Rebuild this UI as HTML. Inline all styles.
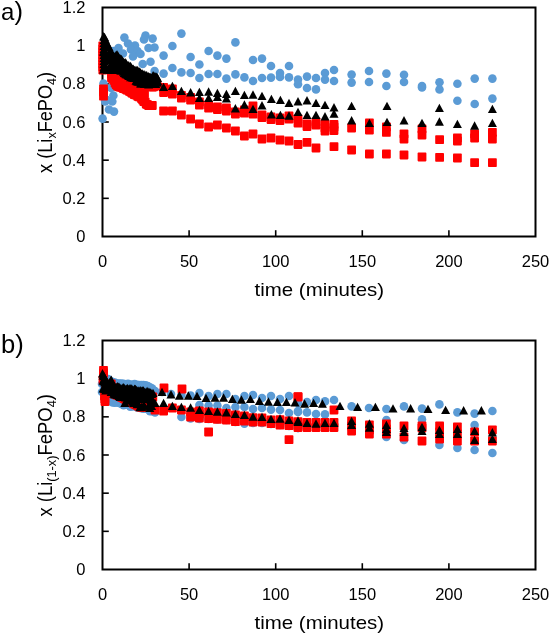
<!DOCTYPE html><html><head><meta charset="utf-8"><title>Figure</title><style>html,body{margin:0;padding:0;background:#fff}svg{display:block}</style></head><body><svg width="550" height="635" viewBox="0 0 550 635" font-family="'Liberation Sans', sans-serif" fill="#000"><rect width="550" height="635" fill="#fff"/><rect x="102.5" y="7.5" width="433.0" height="229.0" fill="none" stroke="#000" stroke-width="2"/><g stroke="#000" stroke-width="1.6"><line x1="102.5" y1="198.33" x2="108.8" y2="198.33"/><line x1="102.5" y1="160.17" x2="108.8" y2="160.17"/><line x1="102.5" y1="122.00" x2="108.8" y2="122.00"/><line x1="102.5" y1="83.84" x2="108.8" y2="83.84"/><line x1="102.5" y1="45.67" x2="108.8" y2="45.67"/><line x1="189.10" y1="236.5" x2="189.10" y2="230.2"/><line x1="275.70" y1="236.5" x2="275.70" y2="230.2"/><line x1="362.30" y1="236.5" x2="362.30" y2="230.2"/><line x1="448.90" y1="236.5" x2="448.90" y2="230.2"/></g><g font-size="16.5" text-anchor="end"><text x="85.5" y="242.1">0</text><text x="85.5" y="203.9">0.2</text><text x="85.5" y="165.8">0.4</text><text x="85.5" y="127.6">0.6</text><text x="85.5" y="89.4">0.8</text><text x="85.5" y="51.3">1</text><text x="85.5" y="13.1">1.2</text></g><g font-size="16.5" text-anchor="middle"><text x="102.5" y="266.7">0</text><text x="189.1" y="266.7">50</text><text x="275.7" y="266.7">100</text><text x="362.3" y="266.7">150</text><text x="448.9" y="266.7">200</text><text x="535.5" y="266.7">250</text></g><text x="319.3" y="296.4" font-size="19" text-anchor="middle" textLength="129.5" lengthAdjust="spacingAndGlyphs">time (minutes)</text><g fill="#5B9BD5"><circle cx="163.6" cy="55.6" r="4.3"/><circle cx="163.6" cy="73.6" r="4.3"/><circle cx="172.4" cy="46.0" r="4.3"/><circle cx="172.4" cy="68.0" r="4.3"/><circle cx="181.4" cy="33.6" r="4.3"/><circle cx="181.4" cy="72.4" r="4.3"/><circle cx="190.6" cy="57.0" r="4.3"/><circle cx="190.6" cy="73.0" r="4.3"/><circle cx="199.4" cy="64.5" r="4.3"/><circle cx="199.4" cy="78.0" r="4.3"/><circle cx="208.6" cy="51.0" r="4.3"/><circle cx="208.6" cy="74.0" r="4.3"/><circle cx="217.4" cy="55.6" r="4.3"/><circle cx="217.4" cy="74.0" r="4.3"/><circle cx="226.4" cy="58.6" r="4.3"/><circle cx="226.4" cy="78.6" r="4.3"/><circle cx="235.4" cy="42.4" r="4.3"/><circle cx="235.4" cy="74.4" r="4.3"/><circle cx="244.4" cy="77.4" r="4.3"/><circle cx="253.0" cy="60.0" r="4.3"/><circle cx="253.0" cy="81.0" r="4.3"/><circle cx="262.0" cy="58.6" r="4.3"/><circle cx="262.0" cy="78.0" r="4.3"/><circle cx="271.0" cy="66.0" r="4.3"/><circle cx="271.0" cy="77.6" r="4.3"/><circle cx="280.0" cy="73.0" r="4.3"/><circle cx="280.0" cy="77.0" r="4.3"/><circle cx="289.0" cy="66.0" r="4.3"/><circle cx="289.0" cy="77.4" r="4.3"/><circle cx="298.0" cy="79.5" r="4.3"/><circle cx="298.0" cy="84.2" r="4.3"/><circle cx="307.0" cy="76.6" r="4.3"/><circle cx="307.0" cy="88.0" r="4.3"/><circle cx="316.0" cy="78.0" r="4.3"/><circle cx="316.0" cy="89.4" r="4.3"/><circle cx="325.0" cy="73.0" r="4.3"/><circle cx="325.0" cy="79.6" r="4.3"/><circle cx="334.0" cy="70.0" r="4.3"/><circle cx="334.0" cy="81.0" r="4.3"/><circle cx="351.6" cy="74.6" r="4.3"/><circle cx="351.6" cy="82.6" r="4.3"/><circle cx="369.0" cy="71.0" r="4.3"/><circle cx="369.0" cy="82.0" r="4.3"/><circle cx="386.4" cy="73.6" r="4.3"/><circle cx="386.4" cy="86.0" r="4.3"/><circle cx="404.0" cy="74.8" r="4.3"/><circle cx="404.0" cy="82.0" r="4.3"/><circle cx="422.0" cy="86.0" r="4.3"/><circle cx="422.0" cy="87.5" r="4.3"/><circle cx="439.5" cy="82.2" r="4.3"/><circle cx="439.5" cy="89.5" r="4.3"/><circle cx="457.4" cy="83.8" r="4.3"/><circle cx="457.4" cy="100.8" r="4.3"/><circle cx="474.7" cy="78.6" r="4.3"/><circle cx="474.7" cy="104.0" r="4.3"/><circle cx="492.4" cy="78.6" r="4.3"/><circle cx="492.4" cy="98.6" r="4.3"/><circle cx="102.6" cy="118.6" r="4.3"/><circle cx="114.0" cy="111.6" r="4.3"/><circle cx="109.0" cy="109.5" r="4.3"/><circle cx="112.3" cy="101.5" r="4.3"/><circle cx="105.2" cy="101.5" r="4.3"/><circle cx="113.4" cy="95.5" r="4.3"/><circle cx="111.2" cy="88.0" r="4.3"/><circle cx="103.5" cy="83.5" r="4.3"/><circle cx="107.0" cy="100.0" r="4.3"/><circle cx="124.4" cy="37.6" r="4.3"/><circle cx="145.5" cy="35.5" r="4.3"/><circle cx="152.6" cy="38.6" r="4.3"/><circle cx="144.0" cy="39.5" r="4.3"/><circle cx="154.5" cy="47.5" r="4.3"/><circle cx="148.5" cy="48.0" r="4.3"/><circle cx="135.0" cy="45.5" r="4.3"/><circle cx="128.0" cy="43.5" r="4.3"/><circle cx="118.5" cy="48.0" r="4.3"/><circle cx="131.0" cy="49.5" r="4.3"/><circle cx="137.5" cy="51.0" r="4.3"/><circle cx="140.5" cy="54.0" r="4.3"/><circle cx="133.0" cy="56.5" r="4.3"/><circle cx="123.0" cy="53.5" r="4.3"/><circle cx="113.5" cy="51.0" r="4.3"/><circle cx="150.5" cy="61.8" r="4.3"/><circle cx="142.7" cy="64.0" r="4.3"/><circle cx="154.6" cy="71.0" r="4.3"/></g><g fill="#FF0000"><rect x="159.2" y="83.1" width="8.8" height="8.8" rx="0.8"/><rect x="159.2" y="106.6" width="8.8" height="8.8" rx="0.8"/><rect x="168.0" y="84.6" width="8.8" height="8.8" rx="0.8"/><rect x="168.0" y="89.6" width="8.8" height="8.8" rx="0.8"/><rect x="168.0" y="106.6" width="8.8" height="8.8" rx="0.8"/><rect x="177.0" y="93.6" width="8.8" height="8.8" rx="0.8"/><rect x="177.0" y="110.6" width="8.8" height="8.8" rx="0.8"/><rect x="186.2" y="95.6" width="8.8" height="8.8" rx="0.8"/><rect x="186.2" y="114.6" width="8.8" height="8.8" rx="0.8"/><rect x="195.0" y="97.6" width="8.8" height="8.8" rx="0.8"/><rect x="195.0" y="119.6" width="8.8" height="8.8" rx="0.8"/><rect x="204.2" y="100.6" width="8.8" height="8.8" rx="0.8"/><rect x="204.2" y="122.6" width="8.8" height="8.8" rx="0.8"/><rect x="213.0" y="102.6" width="8.8" height="8.8" rx="0.8"/><rect x="213.0" y="120.6" width="8.8" height="8.8" rx="0.8"/><rect x="222.0" y="103.6" width="8.8" height="8.8" rx="0.8"/><rect x="222.0" y="123.6" width="8.8" height="8.8" rx="0.8"/><rect x="231.0" y="107.6" width="8.8" height="8.8" rx="0.8"/><rect x="231.0" y="126.6" width="8.8" height="8.8" rx="0.8"/><rect x="240.0" y="105.6" width="8.8" height="8.8" rx="0.8"/><rect x="240.0" y="131.6" width="8.8" height="8.8" rx="0.8"/><rect x="248.6" y="101.6" width="8.8" height="8.8" rx="0.8"/><rect x="248.6" y="129.6" width="8.8" height="8.8" rx="0.8"/><rect x="257.6" y="110.6" width="8.8" height="8.8" rx="0.8"/><rect x="257.6" y="134.6" width="8.8" height="8.8" rx="0.8"/><rect x="266.6" y="112.6" width="8.8" height="8.8" rx="0.8"/><rect x="266.6" y="133.6" width="8.8" height="8.8" rx="0.8"/><rect x="275.6" y="113.6" width="8.8" height="8.8" rx="0.8"/><rect x="275.6" y="135.6" width="8.8" height="8.8" rx="0.8"/><rect x="284.6" y="111.6" width="8.8" height="8.8" rx="0.8"/><rect x="284.6" y="136.6" width="8.8" height="8.8" rx="0.8"/><rect x="293.6" y="114.6" width="8.8" height="8.8" rx="0.8"/><rect x="293.6" y="140.1" width="8.8" height="8.8" rx="0.8"/><rect x="302.6" y="119.6" width="8.8" height="8.8" rx="0.8"/><rect x="302.6" y="138.0" width="8.8" height="8.8" rx="0.8"/><rect x="311.6" y="117.6" width="8.8" height="8.8" rx="0.8"/><rect x="311.6" y="143.6" width="8.8" height="8.8" rx="0.8"/><rect x="320.6" y="123.6" width="8.8" height="8.8" rx="0.8"/><rect x="329.6" y="122.6" width="8.8" height="8.8" rx="0.8"/><rect x="329.6" y="142.2" width="8.8" height="8.8" rx="0.8"/><rect x="347.2" y="123.6" width="8.8" height="8.8" rx="0.8"/><rect x="347.2" y="145.6" width="8.8" height="8.8" rx="0.8"/><rect x="365.0" y="118.6" width="8.8" height="8.8" rx="0.8"/><rect x="365.0" y="125.6" width="8.8" height="8.8" rx="0.8"/><rect x="365.0" y="149.6" width="8.8" height="8.8" rx="0.8"/><rect x="382.0" y="122.6" width="8.8" height="8.8" rx="0.8"/><rect x="382.0" y="128.0" width="8.8" height="8.8" rx="0.8"/><rect x="382.0" y="149.6" width="8.8" height="8.8" rx="0.8"/><rect x="399.6" y="129.6" width="8.8" height="8.8" rx="0.8"/><rect x="399.6" y="134.6" width="8.8" height="8.8" rx="0.8"/><rect x="399.6" y="150.6" width="8.8" height="8.8" rx="0.8"/><rect x="417.6" y="124.6" width="8.8" height="8.8" rx="0.8"/><rect x="417.6" y="130.6" width="8.8" height="8.8" rx="0.8"/><rect x="417.6" y="152.6" width="8.8" height="8.8" rx="0.8"/><rect x="435.2" y="135.3" width="8.8" height="8.8" rx="0.8"/><rect x="435.2" y="152.9" width="8.8" height="8.8" rx="0.8"/><rect x="453.0" y="133.6" width="8.8" height="8.8" rx="0.8"/><rect x="453.0" y="136.6" width="8.8" height="8.8" rx="0.8"/><rect x="453.0" y="153.6" width="8.8" height="8.8" rx="0.8"/><rect x="470.2" y="129.6" width="8.8" height="8.8" rx="0.8"/><rect x="470.2" y="133.6" width="8.8" height="8.8" rx="0.8"/><rect x="470.2" y="158.2" width="8.8" height="8.8" rx="0.8"/><rect x="488.0" y="128.0" width="8.8" height="8.8" rx="0.8"/><rect x="488.0" y="134.6" width="8.8" height="8.8" rx="0.8"/><rect x="488.0" y="158.2" width="8.8" height="8.8" rx="0.8"/><rect x="107.1" y="69.7" width="8.8" height="8.8" rx="0.8"/><rect x="108.3" y="70.3" width="8.8" height="8.8" rx="0.8"/><rect x="109.5" y="71.5" width="8.8" height="8.8" rx="0.8"/><rect x="110.7" y="70.4" width="8.8" height="8.8" rx="0.8"/><rect x="111.9" y="71.4" width="8.8" height="8.8" rx="0.8"/><rect x="113.1" y="71.4" width="8.8" height="8.8" rx="0.8"/><rect x="114.3" y="72.3" width="8.8" height="8.8" rx="0.8"/><rect x="115.5" y="71.1" width="8.8" height="8.8" rx="0.8"/><rect x="116.7" y="71.3" width="8.8" height="8.8" rx="0.8"/><rect x="117.9" y="73.2" width="8.8" height="8.8" rx="0.8"/><rect x="119.1" y="73.8" width="8.8" height="8.8" rx="0.8"/><rect x="120.3" y="74.6" width="8.8" height="8.8" rx="0.8"/><rect x="121.5" y="75.3" width="8.8" height="8.8" rx="0.8"/><rect x="122.7" y="74.0" width="8.8" height="8.8" rx="0.8"/><rect x="123.9" y="75.0" width="8.8" height="8.8" rx="0.8"/><rect x="125.1" y="76.3" width="8.8" height="8.8" rx="0.8"/><rect x="126.3" y="77.6" width="8.8" height="8.8" rx="0.8"/><rect x="127.5" y="78.2" width="8.8" height="8.8" rx="0.8"/><rect x="128.7" y="77.9" width="8.8" height="8.8" rx="0.8"/><rect x="129.9" y="79.2" width="8.8" height="8.8" rx="0.8"/><rect x="131.1" y="79.2" width="8.8" height="8.8" rx="0.8"/><rect x="132.3" y="79.3" width="8.8" height="8.8" rx="0.8"/><rect x="133.5" y="80.1" width="8.8" height="8.8" rx="0.8"/><rect x="134.7" y="80.9" width="8.8" height="8.8" rx="0.8"/><rect x="135.9" y="81.2" width="8.8" height="8.8" rx="0.8"/><rect x="137.1" y="82.0" width="8.8" height="8.8" rx="0.8"/><rect x="138.3" y="82.1" width="8.8" height="8.8" rx="0.8"/><rect x="139.5" y="81.1" width="8.8" height="8.8" rx="0.8"/><rect x="140.7" y="82.3" width="8.8" height="8.8" rx="0.8"/><rect x="141.9" y="80.8" width="8.8" height="8.8" rx="0.8"/><rect x="143.1" y="80.7" width="8.8" height="8.8" rx="0.8"/><rect x="144.3" y="80.8" width="8.8" height="8.8" rx="0.8"/><rect x="145.5" y="81.6" width="8.8" height="8.8" rx="0.8"/><rect x="146.7" y="80.7" width="8.8" height="8.8" rx="0.8"/><rect x="147.9" y="82.6" width="8.8" height="8.8" rx="0.8"/><rect x="149.1" y="82.5" width="8.8" height="8.8" rx="0.8"/><rect x="150.3" y="80.9" width="8.8" height="8.8" rx="0.8"/><rect x="151.5" y="81.3" width="8.8" height="8.8" rx="0.8"/><rect x="152.7" y="81.7" width="8.8" height="8.8" rx="0.8"/><rect x="107.1" y="73.2" width="8.8" height="8.8" rx="0.8"/><rect x="108.3" y="74.8" width="8.8" height="8.8" rx="0.8"/><rect x="109.5" y="76.0" width="8.8" height="8.8" rx="0.8"/><rect x="110.7" y="78.8" width="8.8" height="8.8" rx="0.8"/><rect x="111.9" y="80.5" width="8.8" height="8.8" rx="0.8"/><rect x="113.1" y="81.6" width="8.8" height="8.8" rx="0.8"/><rect x="114.3" y="82.1" width="8.8" height="8.8" rx="0.8"/><rect x="115.5" y="82.7" width="8.8" height="8.8" rx="0.8"/><rect x="116.7" y="82.7" width="8.8" height="8.8" rx="0.8"/><rect x="117.9" y="83.3" width="8.8" height="8.8" rx="0.8"/><rect x="119.1" y="84.2" width="8.8" height="8.8" rx="0.8"/><rect x="120.3" y="84.1" width="8.8" height="8.8" rx="0.8"/><rect x="121.5" y="84.9" width="8.8" height="8.8" rx="0.8"/><rect x="122.7" y="85.7" width="8.8" height="8.8" rx="0.8"/><rect x="123.9" y="85.6" width="8.8" height="8.8" rx="0.8"/><rect x="125.1" y="87.0" width="8.8" height="8.8" rx="0.8"/><rect x="126.3" y="87.5" width="8.8" height="8.8" rx="0.8"/><rect x="127.5" y="88.6" width="8.8" height="8.8" rx="0.8"/><rect x="128.7" y="88.7" width="8.8" height="8.8" rx="0.8"/><rect x="129.9" y="90.1" width="8.8" height="8.8" rx="0.8"/><rect x="131.1" y="90.4" width="8.8" height="8.8" rx="0.8"/><rect x="132.3" y="90.6" width="8.8" height="8.8" rx="0.8"/><rect x="133.5" y="92.0" width="8.8" height="8.8" rx="0.8"/><rect x="134.7" y="92.4" width="8.8" height="8.8" rx="0.8"/><rect x="135.9" y="92.5" width="8.8" height="8.8" rx="0.8"/><rect x="137.1" y="94.1" width="8.8" height="8.8" rx="0.8"/><rect x="138.3" y="95.6" width="8.8" height="8.8" rx="0.8"/><rect x="139.5" y="97.2" width="8.8" height="8.8" rx="0.8"/><rect x="140.7" y="97.4" width="8.8" height="8.8" rx="0.8"/><rect x="141.9" y="99.8" width="8.8" height="8.8" rx="0.8"/><rect x="143.1" y="100.3" width="8.8" height="8.8" rx="0.8"/><rect x="144.3" y="101.3" width="8.8" height="8.8" rx="0.8"/><rect x="145.5" y="100.9" width="8.8" height="8.8" rx="0.8"/><rect x="146.7" y="101.3" width="8.8" height="8.8" rx="0.8"/><rect x="147.9" y="101.1" width="8.8" height="8.8" rx="0.8"/><rect x="108.6" y="72.7" width="8.8" height="8.8" rx="0.8"/><rect x="110.1" y="74.1" width="8.8" height="8.8" rx="0.8"/><rect x="111.6" y="75.5" width="8.8" height="8.8" rx="0.8"/><rect x="113.1" y="76.2" width="8.8" height="8.8" rx="0.8"/><rect x="114.6" y="76.6" width="8.8" height="8.8" rx="0.8"/><rect x="116.1" y="77.2" width="8.8" height="8.8" rx="0.8"/><rect x="117.6" y="77.8" width="8.8" height="8.8" rx="0.8"/><rect x="119.1" y="78.5" width="8.8" height="8.8" rx="0.8"/><rect x="120.6" y="79.2" width="8.8" height="8.8" rx="0.8"/><rect x="122.1" y="80.0" width="8.8" height="8.8" rx="0.8"/><rect x="123.6" y="80.7" width="8.8" height="8.8" rx="0.8"/><rect x="125.1" y="81.5" width="8.8" height="8.8" rx="0.8"/><rect x="126.6" y="82.3" width="8.8" height="8.8" rx="0.8"/><rect x="128.1" y="83.1" width="8.8" height="8.8" rx="0.8"/><rect x="129.6" y="83.8" width="8.8" height="8.8" rx="0.8"/><rect x="131.1" y="84.6" width="8.8" height="8.8" rx="0.8"/><rect x="132.6" y="85.4" width="8.8" height="8.8" rx="0.8"/><rect x="134.1" y="86.2" width="8.8" height="8.8" rx="0.8"/><rect x="135.6" y="87.0" width="8.8" height="8.8" rx="0.8"/><rect x="137.1" y="87.7" width="8.8" height="8.8" rx="0.8"/><rect x="138.6" y="88.5" width="8.8" height="8.8" rx="0.8"/><rect x="140.1" y="89.3" width="8.8" height="8.8" rx="0.8"/><rect x="98.4" y="41.6" width="8.8" height="8.8" rx="0.8"/><rect x="98.4" y="44.6" width="8.8" height="8.8" rx="0.8"/><rect x="98.4" y="47.6" width="8.8" height="8.8" rx="0.8"/><rect x="98.4" y="50.6" width="8.8" height="8.8" rx="0.8"/><rect x="98.4" y="53.6" width="8.8" height="8.8" rx="0.8"/><rect x="98.4" y="56.6" width="8.8" height="8.8" rx="0.8"/><rect x="98.4" y="59.6" width="8.8" height="8.8" rx="0.8"/><rect x="98.4" y="62.6" width="8.8" height="8.8" rx="0.8"/><rect x="98.4" y="65.6" width="8.8" height="8.8" rx="0.8"/><rect x="195.0" y="100.6" width="8.8" height="8.8" rx="0.8"/><rect x="204.2" y="103.6" width="8.8" height="8.8" rx="0.8"/><rect x="213.0" y="105.1" width="8.8" height="8.8" rx="0.8"/><rect x="222.0" y="106.6" width="8.8" height="8.8" rx="0.8"/><rect x="231.0" y="109.6" width="8.8" height="8.8" rx="0.8"/><rect x="240.0" y="108.6" width="8.8" height="8.8" rx="0.8"/><rect x="248.6" y="109.6" width="8.8" height="8.8" rx="0.8"/><rect x="257.6" y="113.1" width="8.8" height="8.8" rx="0.8"/><rect x="266.6" y="115.1" width="8.8" height="8.8" rx="0.8"/><rect x="275.6" y="116.1" width="8.8" height="8.8" rx="0.8"/><rect x="284.6" y="114.6" width="8.8" height="8.8" rx="0.8"/><rect x="293.6" y="118.6" width="8.8" height="8.8" rx="0.8"/><rect x="302.6" y="122.1" width="8.8" height="8.8" rx="0.8"/><rect x="311.6" y="120.6" width="8.8" height="8.8" rx="0.8"/><rect x="320.6" y="120.1" width="8.8" height="8.8" rx="0.8"/><rect x="320.6" y="126.6" width="8.8" height="8.8" rx="0.8"/><rect x="329.6" y="120.1" width="8.8" height="8.8" rx="0.8"/><rect x="329.6" y="126.1" width="8.8" height="8.8" rx="0.8"/><rect x="159.2" y="88.1" width="8.8" height="8.8" rx="0.8"/><rect x="177.0" y="90.9" width="8.8" height="8.8" rx="0.8"/><rect x="186.2" y="92.9" width="8.8" height="8.8" rx="0.8"/><rect x="99.1" y="84.4" width="8.8" height="8.8" rx="0.8"/><rect x="99.1" y="87.6" width="8.8" height="8.8" rx="0.8"/><rect x="99.1" y="91.8" width="8.8" height="8.8" rx="0.8"/></g><g fill="#000000"><path d="M163.6 82.7L168.1 91.1H159.1Z"/><path d="M172.4 81.7L176.9 90.1H167.9Z"/><path d="M181.4 86.7L185.9 95.1H176.9Z"/><path d="M190.6 88.1L195.1 96.5H186.1Z"/><path d="M199.4 87.7L203.9 96.1H194.9Z"/><path d="M199.4 93.7L203.9 102.1H194.9Z"/><path d="M208.6 87.3L213.1 95.7H204.1Z"/><path d="M208.6 93.7L213.1 102.1H204.1Z"/><path d="M217.4 88.7L221.9 97.1H212.9Z"/><path d="M217.4 92.7L221.9 101.1H212.9Z"/><path d="M226.4 89.7L230.9 98.1H221.9Z"/><path d="M226.4 94.1L230.9 102.5H221.9Z"/><path d="M235.4 86.7L239.9 95.1H230.9Z"/><path d="M235.4 104.1L239.9 112.5H230.9Z"/><path d="M244.4 90.7L248.9 99.1H239.9Z"/><path d="M244.4 100.3L248.9 108.7H239.9Z"/><path d="M253.0 90.3L257.5 98.7H248.5Z"/><path d="M253.0 104.7L257.5 113.1H248.5Z"/><path d="M262.0 91.7L266.5 100.1H257.5Z"/><path d="M262.0 101.1L266.5 109.5H257.5Z"/><path d="M271.4 94.7L275.9 103.1H266.9Z"/><path d="M271.4 110.1L275.9 118.5H266.9Z"/><path d="M280.4 95.7L284.9 104.1H275.9Z"/><path d="M280.4 110.7L284.9 119.1H275.9Z"/><path d="M289.0 98.7L293.5 107.1H284.5Z"/><path d="M289.0 111.3L293.5 119.7H284.5Z"/><path d="M298.0 97.1L302.5 105.5H293.5Z"/><path d="M298.0 107.7L302.5 116.1H293.5Z"/><path d="M307.0 96.1L311.5 104.5H302.5Z"/><path d="M307.0 110.7L311.5 119.1H302.5Z"/><path d="M316.0 98.7L320.5 107.1H311.5Z"/><path d="M316.0 110.7L320.5 119.1H311.5Z"/><path d="M325.0 100.7L329.5 109.1H320.5Z"/><path d="M325.0 112.1L329.5 120.5H320.5Z"/><path d="M334.0 103.1L338.5 111.5H329.5Z"/><path d="M334.0 109.3L338.5 117.7H329.5Z"/><path d="M351.6 101.7L356.1 110.1H347.1Z"/><path d="M351.6 116.1L356.1 124.5H347.1Z"/><path d="M369.4 118.7L373.9 127.1H364.9Z"/><path d="M387.0 101.7L391.5 110.1H382.5Z"/><path d="M387.0 117.7L391.5 126.1H382.5Z"/><path d="M404.0 116.1L408.5 124.5H399.5Z"/><path d="M422.0 118.7L426.5 127.1H417.5Z"/><path d="M439.4 103.7L443.9 112.1H434.9Z"/><path d="M439.4 117.3L443.9 125.7H434.9Z"/><path d="M457.4 119.7L461.9 128.1H452.9Z"/><path d="M474.6 121.3L479.1 129.7H470.1Z"/><path d="M492.4 104.7L496.9 113.1H487.9Z"/><path d="M492.4 118.7L496.9 127.1H487.9Z"/><path d="M103.6 32.1L108.1 40.5H99.1Z"/><path d="M103.6 65.0L108.1 73.4H99.1Z"/><path d="M103.6 47.2L108.1 55.6H99.1Z"/><path d="M104.5 32.7L109.0 41.1H100.0Z"/><path d="M104.5 63.7L109.0 72.1H100.0Z"/><path d="M104.5 47.9L109.0 56.3H100.0Z"/><path d="M105.4 35.1L109.9 43.5H100.9Z"/><path d="M105.4 64.1L109.9 72.5H100.9Z"/><path d="M105.4 50.0L109.9 58.4H100.9Z"/><path d="M106.3 38.3L110.8 46.7H101.8Z"/><path d="M106.3 64.3L110.8 72.7H101.8Z"/><path d="M106.3 51.8L110.8 60.2H101.8Z"/><path d="M107.2 39.4L111.7 47.8H102.7Z"/><path d="M107.2 65.4L111.7 73.8H102.7Z"/><path d="M107.2 51.2L111.7 59.6H102.7Z"/><path d="M108.1 41.9L112.6 50.3H103.6Z"/><path d="M108.1 64.3L112.6 72.7H103.6Z"/><path d="M108.1 53.1L112.6 61.5H103.6Z"/><path d="M109.0 42.5L113.5 50.9H104.5Z"/><path d="M109.0 63.8L113.5 72.2H104.5Z"/><path d="M109.0 54.6L113.5 63.0H104.5Z"/><path d="M109.9 47.0L114.4 55.4H105.4Z"/><path d="M109.9 64.1L114.4 72.5H105.4Z"/><path d="M109.9 55.7L114.4 64.1H105.4Z"/><path d="M110.8 48.9L115.3 57.3H106.3Z"/><path d="M110.8 65.4L115.3 73.8H106.3Z"/><path d="M110.8 55.3L115.3 63.7H106.3Z"/><path d="M111.7 48.9L116.2 57.3H107.2Z"/><path d="M111.7 63.7L116.2 72.1H107.2Z"/><path d="M111.7 58.2L116.2 66.6H107.2Z"/><path d="M112.6 50.0L117.1 58.4H108.1Z"/><path d="M112.6 64.3L117.1 72.7H108.1Z"/><path d="M112.6 58.8L117.1 67.2H108.1Z"/><path d="M113.5 51.5L118.0 59.9H109.0Z"/><path d="M113.5 65.0L118.0 73.4H109.0Z"/><path d="M113.5 57.5L118.0 65.9H109.0Z"/><path d="M114.4 52.3L118.9 60.7H109.9Z"/><path d="M114.4 65.3L118.9 73.7H109.9Z"/><path d="M114.4 57.0L118.9 65.4H109.9Z"/><path d="M115.3 52.5L119.8 60.9H110.8Z"/><path d="M115.3 65.7L119.8 74.1H110.8Z"/><path d="M115.3 58.8L119.8 67.2H110.8Z"/><path d="M116.2 50.5L120.7 58.9H111.7Z"/><path d="M116.2 65.2L120.7 73.6H111.7Z"/><path d="M116.2 56.8L120.7 65.2H111.7Z"/><path d="M117.1 50.2L121.6 58.6H112.6Z"/><path d="M117.1 65.5L121.6 73.9H112.6Z"/><path d="M117.1 56.9L121.6 65.3H112.6Z"/><path d="M118.0 51.4L122.5 59.8H113.5Z"/><path d="M118.0 63.6L122.5 72.0H113.5Z"/><path d="M118.0 57.1L122.5 65.5H113.5Z"/><path d="M118.9 54.0L123.4 62.4H114.4Z"/><path d="M118.9 64.0L123.4 72.4H114.4Z"/><path d="M118.9 58.6L123.4 67.0H114.4Z"/><path d="M119.8 54.4L124.3 62.8H115.3Z"/><path d="M119.8 64.2L124.3 72.6H115.3Z"/><path d="M119.8 60.0L124.3 68.4H115.3Z"/><path d="M120.7 54.3L125.2 62.7H116.2Z"/><path d="M120.7 66.0L125.2 74.4H116.2Z"/><path d="M120.7 60.9L125.2 69.3H116.2Z"/><path d="M121.6 55.0L126.1 63.4H117.1Z"/><path d="M121.6 66.0L126.1 74.4H117.1Z"/><path d="M121.6 61.5L126.1 69.9H117.1Z"/><path d="M122.5 56.5L127.0 64.9H118.0Z"/><path d="M122.5 65.7L127.0 74.1H118.0Z"/><path d="M122.5 61.8L127.0 70.2H118.0Z"/><path d="M123.4 57.8L127.9 66.2H118.9Z"/><path d="M123.4 67.3L127.9 75.7H118.9Z"/><path d="M123.4 63.4L127.9 71.8H118.9Z"/><path d="M124.3 58.4L128.8 66.8H119.8Z"/><path d="M124.3 68.7L128.8 77.1H119.8Z"/><path d="M124.3 62.1L128.8 70.5H119.8Z"/><path d="M125.2 58.1L129.7 66.5H120.7Z"/><path d="M125.2 69.0L129.7 77.4H120.7Z"/><path d="M125.2 63.4L129.7 71.8H120.7Z"/><path d="M126.1 58.9L130.6 67.3H121.6Z"/><path d="M126.1 69.8L130.6 78.2H121.6Z"/><path d="M126.1 63.9L130.6 72.3H121.6Z"/><path d="M127.0 60.9L131.5 69.3H122.5Z"/><path d="M127.0 69.9L131.5 78.3H122.5Z"/><path d="M127.0 65.8L131.5 74.2H122.5Z"/><path d="M127.9 61.2L132.4 69.6H123.4Z"/><path d="M127.9 70.5L132.4 78.9H123.4Z"/><path d="M127.9 65.1L132.4 73.5H123.4Z"/><path d="M128.8 60.9L133.3 69.3H124.3Z"/><path d="M128.8 71.5L133.3 79.9H124.3Z"/><path d="M128.8 65.8L133.3 74.2H124.3Z"/><path d="M129.7 63.2L134.2 71.6H125.2Z"/><path d="M129.7 71.5L134.2 79.9H125.2Z"/><path d="M129.7 66.9L134.2 75.3H125.2Z"/><path d="M130.6 61.7L135.1 70.1H126.1Z"/><path d="M130.6 72.8L135.1 81.2H126.1Z"/><path d="M130.6 67.0L135.1 75.4H126.1Z"/><path d="M131.5 63.4L136.0 71.8H127.0Z"/><path d="M131.5 72.0L136.0 80.4H127.0Z"/><path d="M131.5 67.1L136.0 75.5H127.0Z"/><path d="M132.4 64.7L136.9 73.1H127.9Z"/><path d="M132.4 73.0L136.9 81.4H127.9Z"/><path d="M132.4 67.1L136.9 75.5H127.9Z"/><path d="M133.3 64.6L137.8 73.0H128.8Z"/><path d="M133.3 73.0L137.8 81.4H128.8Z"/><path d="M133.3 69.0L137.8 77.4H128.8Z"/><path d="M134.2 65.8L138.7 74.2H129.7Z"/><path d="M134.2 73.7L138.7 82.1H129.7Z"/><path d="M134.2 70.4L138.7 78.8H129.7Z"/><path d="M135.1 65.8L139.6 74.2H130.6Z"/><path d="M135.1 73.4L139.6 81.8H130.6Z"/><path d="M135.1 71.1L139.6 79.5H130.6Z"/><path d="M136.0 66.5L140.5 74.9H131.5Z"/><path d="M136.0 76.4L140.5 84.8H131.5Z"/><path d="M136.0 69.8L140.5 78.2H131.5Z"/><path d="M136.9 65.7L141.4 74.1H132.4Z"/><path d="M136.9 76.8L141.4 85.2H132.4Z"/><path d="M136.9 71.7L141.4 80.1H132.4Z"/><path d="M137.8 66.1L142.3 74.5H133.3Z"/><path d="M137.8 77.0L142.3 85.4H133.3Z"/><path d="M137.8 72.4L142.3 80.8H133.3Z"/><path d="M138.7 68.8L143.2 77.2H134.2Z"/><path d="M138.7 77.4L143.2 85.8H134.2Z"/><path d="M138.7 71.4L143.2 79.8H134.2Z"/><path d="M139.6 67.2L144.1 75.6H135.1Z"/><path d="M139.6 76.4L144.1 84.8H135.1Z"/><path d="M139.6 71.8L144.1 80.2H135.1Z"/><path d="M140.5 68.3L145.0 76.7H136.0Z"/><path d="M140.5 79.0L145.0 87.4H136.0Z"/><path d="M140.5 73.6L145.0 82.0H136.0Z"/><path d="M141.4 69.5L145.9 77.9H136.9Z"/><path d="M141.4 79.1L145.9 87.5H136.9Z"/><path d="M141.4 72.9L145.9 81.3H136.9Z"/><path d="M142.3 69.3L146.8 77.7H137.8Z"/><path d="M142.3 78.6L146.8 87.0H137.8Z"/><path d="M142.3 75.2L146.8 83.6H137.8Z"/><path d="M143.2 70.4L147.7 78.8H138.7Z"/><path d="M143.2 77.3L147.7 85.7H138.7Z"/><path d="M143.2 75.1L147.7 83.5H138.7Z"/><path d="M144.1 70.1L148.6 78.5H139.6Z"/><path d="M144.1 79.4L148.6 87.8H139.6Z"/><path d="M144.1 74.4L148.6 82.8H139.6Z"/><path d="M145.0 72.0L149.5 80.4H140.5Z"/><path d="M145.0 79.3L149.5 87.7H140.5Z"/><path d="M145.0 75.1L149.5 83.5H140.5Z"/><path d="M145.9 70.8L150.4 79.2H141.4Z"/><path d="M145.9 77.8L150.4 86.2H141.4Z"/><path d="M145.9 74.3L150.4 82.7H141.4Z"/><path d="M146.8 71.0L151.3 79.4H142.3Z"/><path d="M146.8 78.0L151.3 86.4H142.3Z"/><path d="M146.8 74.8L151.3 83.2H142.3Z"/><path d="M147.7 73.0L152.2 81.4H143.2Z"/><path d="M147.7 79.0L152.2 87.4H143.2Z"/><path d="M147.7 74.5L152.2 82.9H143.2Z"/><path d="M148.6 72.0L153.1 80.4H144.1Z"/><path d="M148.6 80.0L153.1 88.4H144.1Z"/><path d="M148.6 76.1L153.1 84.5H144.1Z"/><path d="M149.5 72.7L154.0 81.1H145.0Z"/><path d="M149.5 78.3L154.0 86.7H145.0Z"/><path d="M149.5 76.8L154.0 85.2H145.0Z"/><path d="M150.4 72.8L154.9 81.2H145.9Z"/><path d="M150.4 79.1L154.9 87.5H145.9Z"/><path d="M150.4 77.3L154.9 85.7H145.9Z"/><path d="M151.3 73.8L155.8 82.2H146.8Z"/><path d="M151.3 78.3L155.8 86.7H146.8Z"/><path d="M151.3 75.9L155.8 84.3H146.8Z"/><path d="M152.2 72.8L156.7 81.2H147.7Z"/><path d="M152.2 79.7L156.7 88.1H147.7Z"/><path d="M152.2 74.9L156.7 83.3H147.7Z"/><path d="M153.1 70.9L157.6 79.3H148.6Z"/><path d="M153.1 77.9L157.6 86.3H148.6Z"/><path d="M153.1 75.4L157.6 83.8H148.6Z"/><path d="M154.0 71.8L158.5 80.2H149.5Z"/><path d="M154.0 79.1L158.5 87.5H149.5Z"/><path d="M154.0 74.8L158.5 83.2H149.5Z"/><path d="M154.9 72.5L159.4 80.9H150.4Z"/><path d="M154.9 79.1L159.4 87.5H150.4Z"/><path d="M154.9 74.8L159.4 83.2H150.4Z"/><path d="M155.8 72.3L160.3 80.7H151.3Z"/><path d="M155.8 79.5L160.3 87.9H151.3Z"/><path d="M155.8 75.9L160.3 84.3H151.3Z"/><path d="M156.7 72.4L161.2 80.8H152.2Z"/><path d="M156.7 77.9L161.2 86.3H152.2Z"/><path d="M156.7 75.6L161.2 84.0H152.2Z"/><path d="M157.6 73.5L162.1 81.9H153.1Z"/><path d="M157.6 78.2L162.1 86.6H153.1Z"/><path d="M157.6 76.7L162.1 85.1H153.1Z"/><path d="M104.0 35.7L108.5 44.1H99.5Z"/><path d="M104.0 38.7L108.5 47.1H99.5Z"/><path d="M104.0 41.7L108.5 50.1H99.5Z"/><path d="M104.0 44.7L108.5 53.1H99.5Z"/><path d="M104.0 47.7L108.5 56.1H99.5Z"/><path d="M104.0 50.7L108.5 59.1H99.5Z"/><path d="M104.0 53.7L108.5 62.1H99.5Z"/><path d="M104.0 56.7L108.5 65.1H99.5Z"/><path d="M104.0 59.7L108.5 68.1H99.5Z"/><path d="M104.0 62.7L108.5 71.1H99.5Z"/></g><rect x="102.5" y="340.5" width="433.0" height="229.0" fill="none" stroke="#000" stroke-width="2"/><g stroke="#000" stroke-width="1.6"><line x1="102.5" y1="531.33" x2="108.8" y2="531.33"/><line x1="102.5" y1="493.17" x2="108.8" y2="493.17"/><line x1="102.5" y1="455.00" x2="108.8" y2="455.00"/><line x1="102.5" y1="416.84" x2="108.8" y2="416.84"/><line x1="102.5" y1="378.67" x2="108.8" y2="378.67"/><line x1="189.10" y1="569.5" x2="189.10" y2="563.2"/><line x1="275.70" y1="569.5" x2="275.70" y2="563.2"/><line x1="362.30" y1="569.5" x2="362.30" y2="563.2"/><line x1="448.90" y1="569.5" x2="448.90" y2="563.2"/></g><g font-size="16.5" text-anchor="end"><text x="85.5" y="575.1">0</text><text x="85.5" y="536.9">0.2</text><text x="85.5" y="498.8">0.4</text><text x="85.5" y="460.6">0.6</text><text x="85.5" y="422.4">0.8</text><text x="85.5" y="384.3">1</text><text x="85.5" y="346.1">1.2</text></g><g font-size="16.5" text-anchor="middle"><text x="102.5" y="599.7">0</text><text x="189.1" y="599.7">50</text><text x="275.7" y="599.7">100</text><text x="362.3" y="599.7">150</text><text x="448.9" y="599.7">200</text><text x="535.5" y="599.7">250</text></g><text x="319.3" y="629.4" font-size="19" text-anchor="middle" textLength="129.5" lengthAdjust="spacingAndGlyphs">time (minutes)</text><g fill="#5B9BD5"><circle cx="199.4" cy="393.0" r="4.3"/><circle cx="199.4" cy="405.0" r="4.3"/><circle cx="199.4" cy="419.0" r="4.3"/><circle cx="208.6" cy="396.0" r="4.3"/><circle cx="208.6" cy="405.6" r="4.3"/><circle cx="208.6" cy="419.0" r="4.3"/><circle cx="217.4" cy="394.0" r="4.3"/><circle cx="217.4" cy="405.6" r="4.3"/><circle cx="217.4" cy="419.4" r="4.3"/><circle cx="226.4" cy="394.0" r="4.3"/><circle cx="226.4" cy="408.0" r="4.3"/><circle cx="226.4" cy="420.0" r="4.3"/><circle cx="235.4" cy="399.0" r="4.3"/><circle cx="235.4" cy="407.0" r="4.3"/><circle cx="235.4" cy="422.0" r="4.3"/><circle cx="244.4" cy="396.0" r="4.3"/><circle cx="244.4" cy="407.0" r="4.3"/><circle cx="244.4" cy="423.6" r="4.3"/><circle cx="253.0" cy="395.0" r="4.3"/><circle cx="253.0" cy="409.0" r="4.3"/><circle cx="253.0" cy="423.0" r="4.3"/><circle cx="262.0" cy="398.0" r="4.3"/><circle cx="262.0" cy="408.0" r="4.3"/><circle cx="262.0" cy="423.0" r="4.3"/><circle cx="271.0" cy="396.0" r="4.3"/><circle cx="271.0" cy="409.6" r="4.3"/><circle cx="271.0" cy="424.0" r="4.3"/><circle cx="280.0" cy="399.0" r="4.3"/><circle cx="280.0" cy="410.0" r="4.3"/><circle cx="280.0" cy="425.0" r="4.3"/><circle cx="289.0" cy="396.0" r="4.3"/><circle cx="289.0" cy="413.0" r="4.3"/><circle cx="289.0" cy="426.0" r="4.3"/><circle cx="298.0" cy="403.0" r="4.3"/><circle cx="298.0" cy="412.0" r="4.3"/><circle cx="298.0" cy="428.0" r="4.3"/><circle cx="307.0" cy="402.0" r="4.3"/><circle cx="316.0" cy="400.0" r="4.3"/><circle cx="325.0" cy="401.4" r="4.3"/><circle cx="334.0" cy="400.0" r="4.3"/><circle cx="351.6" cy="406.4" r="4.3"/><circle cx="369.0" cy="408.0" r="4.3"/><circle cx="386.4" cy="409.0" r="4.3"/><circle cx="404.0" cy="406.4" r="4.3"/><circle cx="298.0" cy="411.0" r="4.3"/><circle cx="307.0" cy="412.4" r="4.3"/><circle cx="316.0" cy="414.0" r="4.3"/><circle cx="325.0" cy="414.4" r="4.3"/><circle cx="298.0" cy="428.0" r="4.3"/><circle cx="386.4" cy="420.0" r="4.3"/><circle cx="386.4" cy="437.0" r="4.3"/><circle cx="404.0" cy="440.0" r="4.3"/><circle cx="422.0" cy="408.6" r="4.3"/><circle cx="439.4" cy="404.4" r="4.3"/><circle cx="457.4" cy="412.4" r="4.3"/><circle cx="474.6" cy="413.6" r="4.3"/><circle cx="492.4" cy="411.0" r="4.3"/><circle cx="422.0" cy="419.4" r="4.3"/><circle cx="439.4" cy="445.0" r="4.3"/><circle cx="457.4" cy="448.0" r="4.3"/><circle cx="474.6" cy="425.0" r="4.3"/><circle cx="474.6" cy="450.0" r="4.3"/><circle cx="492.4" cy="453.0" r="4.3"/><circle cx="155.0" cy="412.4" r="4.3"/><circle cx="181.4" cy="417.0" r="4.3"/><circle cx="190.6" cy="418.4" r="4.3"/><circle cx="162.0" cy="392.0" r="4.3"/><circle cx="171.0" cy="394.0" r="4.3"/><circle cx="181.4" cy="395.0" r="4.3"/><circle cx="190.6" cy="395.5" r="4.3"/><circle cx="155.0" cy="391.0" r="4.3"/><circle cx="106.0" cy="378.7" r="4.3"/><circle cx="106.0" cy="398.3" r="4.3"/><circle cx="108.2" cy="379.0" r="4.3"/><circle cx="108.2" cy="400.4" r="4.3"/><circle cx="110.4" cy="380.7" r="4.3"/><circle cx="110.4" cy="401.3" r="4.3"/><circle cx="112.6" cy="382.0" r="4.3"/><circle cx="112.6" cy="402.4" r="4.3"/><circle cx="114.8" cy="382.5" r="4.3"/><circle cx="114.8" cy="402.6" r="4.3"/><circle cx="117.0" cy="383.5" r="4.3"/><circle cx="117.0" cy="402.4" r="4.3"/><circle cx="119.2" cy="383.5" r="4.3"/><circle cx="119.2" cy="402.9" r="4.3"/><circle cx="121.4" cy="383.5" r="4.3"/><circle cx="121.4" cy="404.0" r="4.3"/><circle cx="123.6" cy="383.7" r="4.3"/><circle cx="123.6" cy="405.3" r="4.3"/><circle cx="125.8" cy="384.2" r="4.3"/><circle cx="125.8" cy="403.9" r="4.3"/><circle cx="128.0" cy="383.9" r="4.3"/><circle cx="128.0" cy="404.7" r="4.3"/><circle cx="130.2" cy="384.6" r="4.3"/><circle cx="130.2" cy="406.6" r="4.3"/><circle cx="132.4" cy="384.8" r="4.3"/><circle cx="132.4" cy="406.5" r="4.3"/><circle cx="134.6" cy="384.0" r="4.3"/><circle cx="134.6" cy="406.0" r="4.3"/><circle cx="136.8" cy="384.9" r="4.3"/><circle cx="136.8" cy="407.1" r="4.3"/><circle cx="139.0" cy="385.0" r="4.3"/><circle cx="139.0" cy="407.7" r="4.3"/><circle cx="141.2" cy="385.0" r="4.3"/><circle cx="141.2" cy="408.1" r="4.3"/><circle cx="143.4" cy="385.1" r="4.3"/><circle cx="143.4" cy="408.7" r="4.3"/><circle cx="145.6" cy="385.3" r="4.3"/><circle cx="145.6" cy="408.6" r="4.3"/><circle cx="147.8" cy="386.0" r="4.3"/><circle cx="147.8" cy="409.2" r="4.3"/><circle cx="150.0" cy="387.3" r="4.3"/><circle cx="150.0" cy="411.2" r="4.3"/><circle cx="152.2" cy="388.6" r="4.3"/><circle cx="152.2" cy="411.3" r="4.3"/><circle cx="102.0" cy="392.0" r="4.3"/><circle cx="102.0" cy="384.0" r="4.3"/></g><g fill="#FF0000"><rect x="159.6" y="383.6" width="8.8" height="8.8" rx="0.8"/><rect x="177.6" y="384.6" width="8.8" height="8.8" rx="0.8"/><rect x="150.6" y="405.6" width="8.8" height="8.8" rx="0.8"/><rect x="159.2" y="406.6" width="8.8" height="8.8" rx="0.8"/><rect x="168.0" y="403.6" width="8.8" height="8.8" rx="0.8"/><rect x="177.0" y="405.6" width="8.8" height="8.8" rx="0.8"/><rect x="186.2" y="407.6" width="8.8" height="8.8" rx="0.8"/><rect x="186.2" y="412.6" width="8.8" height="8.8" rx="0.8"/><rect x="195.0" y="409.6" width="8.8" height="8.8" rx="0.8"/><rect x="204.2" y="427.6" width="8.8" height="8.8" rx="0.8"/><rect x="284.6" y="435.2" width="8.8" height="8.8" rx="0.8"/><rect x="293.6" y="392.2" width="8.8" height="8.8" rx="0.8"/><rect x="293.6" y="392.6" width="8.8" height="8.8" rx="0.8"/><rect x="329.6" y="405.6" width="8.8" height="8.8" rx="0.8"/><rect x="195.0" y="406.6" width="8.8" height="8.8" rx="0.8"/><rect x="195.0" y="413.6" width="8.8" height="8.8" rx="0.8"/><rect x="204.2" y="407.6" width="8.8" height="8.8" rx="0.8"/><rect x="204.2" y="414.2" width="8.8" height="8.8" rx="0.8"/><rect x="213.0" y="408.2" width="8.8" height="8.8" rx="0.8"/><rect x="213.0" y="415.0" width="8.8" height="8.8" rx="0.8"/><rect x="222.0" y="409.0" width="8.8" height="8.8" rx="0.8"/><rect x="222.0" y="415.6" width="8.8" height="8.8" rx="0.8"/><rect x="231.0" y="410.6" width="8.8" height="8.8" rx="0.8"/><rect x="231.0" y="417.2" width="8.8" height="8.8" rx="0.8"/><rect x="240.0" y="411.6" width="8.8" height="8.8" rx="0.8"/><rect x="240.0" y="416.6" width="8.8" height="8.8" rx="0.8"/><rect x="248.6" y="413.2" width="8.8" height="8.8" rx="0.8"/><rect x="248.6" y="417.6" width="8.8" height="8.8" rx="0.8"/><rect x="257.6" y="413.6" width="8.8" height="8.8" rx="0.8"/><rect x="257.6" y="417.6" width="8.8" height="8.8" rx="0.8"/><rect x="266.6" y="415.6" width="8.8" height="8.8" rx="0.8"/><rect x="266.6" y="419.2" width="8.8" height="8.8" rx="0.8"/><rect x="275.6" y="415.2" width="8.8" height="8.8" rx="0.8"/><rect x="275.6" y="420.6" width="8.8" height="8.8" rx="0.8"/><rect x="284.6" y="416.6" width="8.8" height="8.8" rx="0.8"/><rect x="284.6" y="421.2" width="8.8" height="8.8" rx="0.8"/><rect x="293.6" y="417.2" width="8.8" height="8.8" rx="0.8"/><rect x="293.6" y="421.6" width="8.8" height="8.8" rx="0.8"/><rect x="293.6" y="418.1" width="8.8" height="8.8" rx="0.8"/><rect x="293.6" y="423.1" width="8.8" height="8.8" rx="0.8"/><rect x="302.6" y="418.1" width="8.8" height="8.8" rx="0.8"/><rect x="302.6" y="423.1" width="8.8" height="8.8" rx="0.8"/><rect x="311.6" y="418.1" width="8.8" height="8.8" rx="0.8"/><rect x="311.6" y="423.1" width="8.8" height="8.8" rx="0.8"/><rect x="320.6" y="418.1" width="8.8" height="8.8" rx="0.8"/><rect x="320.6" y="423.1" width="8.8" height="8.8" rx="0.8"/><rect x="329.6" y="418.1" width="8.8" height="8.8" rx="0.8"/><rect x="329.6" y="423.1" width="8.8" height="8.8" rx="0.8"/><rect x="347.2" y="416.6" width="8.8" height="8.8" rx="0.8"/><rect x="347.2" y="421.6" width="8.8" height="8.8" rx="0.8"/><rect x="347.2" y="426.6" width="8.8" height="8.8" rx="0.8"/><rect x="365.0" y="420.6" width="8.8" height="8.8" rx="0.8"/><rect x="365.0" y="425.6" width="8.8" height="8.8" rx="0.8"/><rect x="365.0" y="429.6" width="8.8" height="8.8" rx="0.8"/><rect x="382.0" y="419.6" width="8.8" height="8.8" rx="0.8"/><rect x="382.0" y="424.6" width="8.8" height="8.8" rx="0.8"/><rect x="382.0" y="429.6" width="8.8" height="8.8" rx="0.8"/><rect x="399.6" y="421.6" width="8.8" height="8.8" rx="0.8"/><rect x="399.6" y="432.6" width="8.8" height="8.8" rx="0.8"/><rect x="417.6" y="421.6" width="8.8" height="8.8" rx="0.8"/><rect x="417.6" y="423.6" width="8.8" height="8.8" rx="0.8"/><rect x="417.6" y="436.6" width="8.8" height="8.8" rx="0.8"/><rect x="435.2" y="421.6" width="8.8" height="8.8" rx="0.8"/><rect x="435.2" y="427.6" width="8.8" height="8.8" rx="0.8"/><rect x="435.2" y="434.6" width="8.8" height="8.8" rx="0.8"/><rect x="453.0" y="422.6" width="8.8" height="8.8" rx="0.8"/><rect x="453.0" y="429.6" width="8.8" height="8.8" rx="0.8"/><rect x="453.0" y="436.6" width="8.8" height="8.8" rx="0.8"/><rect x="470.2" y="427.6" width="8.8" height="8.8" rx="0.8"/><rect x="470.2" y="436.6" width="8.8" height="8.8" rx="0.8"/><rect x="488.0" y="425.6" width="8.8" height="8.8" rx="0.8"/><rect x="488.0" y="436.6" width="8.8" height="8.8" rx="0.8"/><rect x="99.1" y="365.9" width="8.8" height="8.8" rx="0.8"/><rect x="99.1" y="368.6" width="8.8" height="8.8" rx="0.8"/><rect x="98.6" y="375.6" width="8.8" height="8.8" rx="0.8"/><rect x="100.1" y="391.6" width="8.8" height="8.8" rx="0.8"/><rect x="100.6" y="397.1" width="8.8" height="8.8" rx="0.8"/><rect x="100.4" y="394.6" width="8.8" height="8.8" rx="0.8"/><rect x="101.6" y="385.9" width="8.8" height="8.8" rx="0.8"/><rect x="102.9" y="386.4" width="8.8" height="8.8" rx="0.8"/><rect x="104.2" y="387.0" width="8.8" height="8.8" rx="0.8"/><rect x="105.5" y="387.6" width="8.8" height="8.8" rx="0.8"/><rect x="106.8" y="388.1" width="8.8" height="8.8" rx="0.8"/><rect x="108.1" y="388.7" width="8.8" height="8.8" rx="0.8"/><rect x="109.4" y="389.2" width="8.8" height="8.8" rx="0.8"/><rect x="110.7" y="389.8" width="8.8" height="8.8" rx="0.8"/><rect x="112.0" y="390.4" width="8.8" height="8.8" rx="0.8"/><rect x="113.3" y="390.9" width="8.8" height="8.8" rx="0.8"/><rect x="114.6" y="391.5" width="8.8" height="8.8" rx="0.8"/><rect x="115.9" y="392.2" width="8.8" height="8.8" rx="0.8"/><rect x="117.2" y="392.9" width="8.8" height="8.8" rx="0.8"/><rect x="118.5" y="393.5" width="8.8" height="8.8" rx="0.8"/><rect x="119.8" y="394.2" width="8.8" height="8.8" rx="0.8"/><rect x="121.1" y="394.9" width="8.8" height="8.8" rx="0.8"/><rect x="122.4" y="395.6" width="8.8" height="8.8" rx="0.8"/><rect x="123.7" y="396.3" width="8.8" height="8.8" rx="0.8"/><rect x="125.0" y="396.9" width="8.8" height="8.8" rx="0.8"/><rect x="126.3" y="397.6" width="8.8" height="8.8" rx="0.8"/><rect x="127.6" y="398.3" width="8.8" height="8.8" rx="0.8"/><rect x="128.9" y="399.0" width="8.8" height="8.8" rx="0.8"/><rect x="130.2" y="399.7" width="8.8" height="8.8" rx="0.8"/><rect x="131.5" y="400.3" width="8.8" height="8.8" rx="0.8"/><rect x="132.8" y="401.0" width="8.8" height="8.8" rx="0.8"/><rect x="134.1" y="401.7" width="8.8" height="8.8" rx="0.8"/><rect x="135.4" y="402.4" width="8.8" height="8.8" rx="0.8"/><rect x="136.7" y="402.8" width="8.8" height="8.8" rx="0.8"/><rect x="138.0" y="402.9" width="8.8" height="8.8" rx="0.8"/><rect x="139.3" y="402.9" width="8.8" height="8.8" rx="0.8"/><rect x="140.6" y="403.0" width="8.8" height="8.8" rx="0.8"/><rect x="141.9" y="403.1" width="8.8" height="8.8" rx="0.8"/><rect x="143.2" y="403.1" width="8.8" height="8.8" rx="0.8"/><rect x="144.5" y="403.2" width="8.8" height="8.8" rx="0.8"/><rect x="145.8" y="403.2" width="8.8" height="8.8" rx="0.8"/><rect x="147.1" y="403.3" width="8.8" height="8.8" rx="0.8"/><rect x="148.4" y="403.3" width="8.8" height="8.8" rx="0.8"/><rect x="101.6" y="380.6" width="8.8" height="8.8" rx="0.8"/><rect x="102.9" y="381.9" width="8.8" height="8.8" rx="0.8"/><rect x="104.2" y="383.2" width="8.8" height="8.8" rx="0.8"/><rect x="105.5" y="382.0" width="8.8" height="8.8" rx="0.8"/><rect x="106.8" y="379.6" width="8.8" height="8.8" rx="0.8"/><rect x="108.1" y="383.3" width="8.8" height="8.8" rx="0.8"/><rect x="109.4" y="386.1" width="8.8" height="8.8" rx="0.8"/><rect x="110.7" y="386.4" width="8.8" height="8.8" rx="0.8"/><rect x="112.0" y="386.6" width="8.8" height="8.8" rx="0.8"/><rect x="113.3" y="386.8" width="8.8" height="8.8" rx="0.8"/><rect x="114.6" y="387.0" width="8.8" height="8.8" rx="0.8"/><rect x="115.9" y="387.2" width="8.8" height="8.8" rx="0.8"/><rect x="117.2" y="387.4" width="8.8" height="8.8" rx="0.8"/><rect x="118.5" y="387.6" width="8.8" height="8.8" rx="0.8"/><rect x="119.8" y="387.8" width="8.8" height="8.8" rx="0.8"/><rect x="121.1" y="388.0" width="8.8" height="8.8" rx="0.8"/><rect x="122.4" y="388.2" width="8.8" height="8.8" rx="0.8"/><rect x="123.7" y="388.4" width="8.8" height="8.8" rx="0.8"/><rect x="125.0" y="388.6" width="8.8" height="8.8" rx="0.8"/><rect x="126.3" y="388.8" width="8.8" height="8.8" rx="0.8"/><rect x="127.6" y="389.0" width="8.8" height="8.8" rx="0.8"/><rect x="128.9" y="389.2" width="8.8" height="8.8" rx="0.8"/><rect x="130.2" y="389.4" width="8.8" height="8.8" rx="0.8"/><rect x="131.5" y="389.6" width="8.8" height="8.8" rx="0.8"/><rect x="132.8" y="389.8" width="8.8" height="8.8" rx="0.8"/><rect x="134.1" y="390.0" width="8.8" height="8.8" rx="0.8"/><rect x="135.4" y="390.3" width="8.8" height="8.8" rx="0.8"/><rect x="136.7" y="390.5" width="8.8" height="8.8" rx="0.8"/><rect x="138.0" y="390.7" width="8.8" height="8.8" rx="0.8"/><rect x="139.3" y="390.9" width="8.8" height="8.8" rx="0.8"/><rect x="140.6" y="391.1" width="8.8" height="8.8" rx="0.8"/><rect x="141.9" y="391.4" width="8.8" height="8.8" rx="0.8"/><rect x="143.2" y="391.7" width="8.8" height="8.8" rx="0.8"/><rect x="144.5" y="391.9" width="8.8" height="8.8" rx="0.8"/><rect x="145.8" y="392.2" width="8.8" height="8.8" rx="0.8"/><rect x="147.1" y="392.5" width="8.8" height="8.8" rx="0.8"/><rect x="148.4" y="392.6" width="8.8" height="8.8" rx="0.8"/></g><g fill="#000000"><path d="M153.0 388.7L157.5 397.1H148.5Z"/><path d="M162.0 387.7L166.5 396.1H157.5Z"/><path d="M171.0 390.1L175.5 398.5H166.5Z"/><path d="M179.4 391.3L183.9 399.7H174.9Z"/><path d="M188.4 391.3L192.9 399.7H183.9Z"/><path d="M197.0 391.7L201.5 400.1H192.5Z"/><path d="M206.0 393.7L210.5 402.1H201.5Z"/><path d="M215.0 393.3L219.5 401.7H210.5Z"/><path d="M223.6 393.3L228.1 401.7H219.1Z"/><path d="M232.4 394.7L236.9 403.1H227.9Z"/><path d="M241.4 395.3L245.9 403.7H236.9Z"/><path d="M250.4 394.7L254.9 403.1H245.9Z"/><path d="M259.4 396.7L263.9 405.1H254.9Z"/><path d="M268.4 397.3L272.9 405.7H263.9Z"/><path d="M277.4 397.7L281.9 406.1H272.9Z"/><path d="M286.4 397.7L290.9 406.1H281.9Z"/><path d="M295.0 398.1L299.5 406.5H290.5Z"/><path d="M304.6 399.3L309.1 407.7H300.1Z"/><path d="M313.6 398.7L318.1 407.1H309.1Z"/><path d="M322.4 399.3L326.9 407.7H317.9Z"/><path d="M340.0 401.7L344.5 410.1H335.5Z"/><path d="M357.6 402.7L362.1 411.1H353.1Z"/><path d="M375.4 402.7L379.9 411.1H370.9Z"/><path d="M393.0 404.2L397.5 412.6H388.5Z"/><path d="M410.6 404.1L415.1 412.5H406.1Z"/><path d="M428.0 404.7L432.5 413.1H423.5Z"/><path d="M445.6 405.7L450.1 414.1H441.1Z"/><path d="M463.6 406.1L468.1 414.5H459.1Z"/><path d="M481.4 406.1L485.9 414.5H476.9Z"/><path d="M155.0 398.7L159.5 407.1H150.5Z"/><path d="M163.6 398.7L168.1 407.1H159.1Z"/><path d="M172.4 401.7L176.9 410.1H167.9Z"/><path d="M181.4 402.7L185.9 411.1H176.9Z"/><path d="M190.6 403.3L195.1 411.7H186.1Z"/><path d="M199.4 405.7L203.9 414.1H194.9Z"/><path d="M208.6 406.7L213.1 415.1H204.1Z"/><path d="M217.4 407.3L221.9 415.7H212.9Z"/><path d="M226.4 408.1L230.9 416.5H221.9Z"/><path d="M235.4 409.7L239.9 418.1H230.9Z"/><path d="M244.4 410.7L248.9 419.1H239.9Z"/><path d="M253.0 412.3L257.5 420.7H248.5Z"/><path d="M262.0 412.7L266.5 421.1H257.5Z"/><path d="M271.0 414.7L275.5 423.1H266.5Z"/><path d="M280.0 414.3L284.5 422.7H275.5Z"/><path d="M289.0 415.7L293.5 424.1H284.5Z"/><path d="M298.0 416.3L302.5 424.7H293.5Z"/><path d="M298.0 417.7L302.5 426.1H293.5Z"/><path d="M307.0 418.7L311.5 427.1H302.5Z"/><path d="M316.0 419.3L320.5 427.7H311.5Z"/><path d="M325.0 418.7L329.5 427.1H320.5Z"/><path d="M334.0 418.7L338.5 427.1H329.5Z"/><path d="M351.6 416.7L356.1 425.1H347.1Z"/><path d="M351.6 420.7L356.1 429.1H347.1Z"/><path d="M369.4 419.3L373.9 427.7H364.9Z"/><path d="M369.4 423.3L373.9 431.7H364.9Z"/><path d="M386.4 420.7L390.9 429.1H381.9Z"/><path d="M386.4 424.7L390.9 433.1H381.9Z"/><path d="M386.4 427.7L390.9 436.1H381.9Z"/><path d="M404.0 423.7L408.5 432.1H399.5Z"/><path d="M404.0 427.7L408.5 436.1H399.5Z"/><path d="M422.0 422.7L426.5 431.1H417.5Z"/><path d="M422.0 426.7L426.5 435.1H417.5Z"/><path d="M439.4 425.7L443.9 434.1H434.9Z"/><path d="M439.4 429.7L443.9 438.1H434.9Z"/><path d="M457.4 424.7L461.9 433.1H452.9Z"/><path d="M457.4 429.7L461.9 438.1H452.9Z"/><path d="M474.6 426.7L479.1 435.1H470.1Z"/><path d="M474.6 435.7L479.1 444.1H470.1Z"/><path d="M492.4 428.1L496.9 436.5H487.9Z"/><path d="M492.4 434.7L496.9 443.1H487.9Z"/><path d="M103.0 371.0L107.5 379.4H98.5Z"/><path d="M103.0 376.3L107.5 384.7H98.5Z"/><path d="M103.0 384.2L107.5 392.6H98.5Z"/><path d="M103.9 371.8L108.4 380.2H99.4Z"/><path d="M103.9 377.2L108.4 385.6H99.4Z"/><path d="M103.9 384.0L108.4 392.4H99.4Z"/><path d="M104.8 373.8L109.3 382.2H100.3Z"/><path d="M104.8 378.2L109.3 386.6H100.3Z"/><path d="M104.8 384.7L109.3 393.1H100.3Z"/><path d="M105.7 376.9L110.2 385.3H101.2Z"/><path d="M105.7 379.2L110.2 387.6H101.2Z"/><path d="M105.7 386.1L110.2 394.5H101.2Z"/><path d="M106.6 376.5L111.1 384.9H102.1Z"/><path d="M106.6 380.5L111.1 388.9H102.1Z"/><path d="M106.6 384.3L111.1 392.7H102.1Z"/><path d="M107.5 378.7L112.0 387.1H103.0Z"/><path d="M107.5 380.7L112.0 389.1H103.0Z"/><path d="M107.5 384.7L112.0 393.1H103.0Z"/><path d="M108.4 379.8L112.9 388.2H103.9Z"/><path d="M108.4 382.0L112.9 390.4H103.9Z"/><path d="M108.4 385.7L112.9 394.1H103.9Z"/><path d="M109.3 378.6L113.8 387.0H104.8Z"/><path d="M109.3 382.1L113.8 390.5H104.8Z"/><path d="M109.3 385.2L113.8 393.6H104.8Z"/><path d="M110.2 377.5L114.7 385.9H105.7Z"/><path d="M110.2 381.6L114.7 390.0H105.7Z"/><path d="M110.2 385.7L114.7 394.1H105.7Z"/><path d="M111.1 376.0L115.6 384.4H106.6Z"/><path d="M111.1 380.1L115.6 388.5H106.6Z"/><path d="M111.1 387.6L115.6 396.0H106.6Z"/><path d="M112.0 378.5L116.5 386.9H107.5Z"/><path d="M112.0 382.0L116.5 390.4H107.5Z"/><path d="M112.0 386.7L116.5 395.1H107.5Z"/><path d="M112.9 381.1L117.4 389.5H108.4Z"/><path d="M112.9 383.1L117.4 391.5H108.4Z"/><path d="M112.9 386.5L117.4 394.9H108.4Z"/><path d="M113.8 383.0L118.3 391.4H109.3Z"/><path d="M113.8 384.6L118.3 393.0H109.3Z"/><path d="M113.8 389.4L118.3 397.8H109.3Z"/><path d="M114.7 383.1L119.2 391.5H110.2Z"/><path d="M114.7 385.5L119.2 393.9H110.2Z"/><path d="M114.7 390.1L119.2 398.5H110.2Z"/><path d="M115.6 383.2L120.1 391.6H111.1Z"/><path d="M115.6 385.4L120.1 393.8H111.1Z"/><path d="M115.6 387.9L120.1 396.3H111.1Z"/><path d="M116.5 383.1L121.0 391.5H112.0Z"/><path d="M116.5 385.9L121.0 394.3H112.0Z"/><path d="M116.5 389.8L121.0 398.2H112.0Z"/><path d="M117.4 381.9L121.9 390.3H112.9Z"/><path d="M117.4 386.1L121.9 394.5H112.9Z"/><path d="M117.4 390.7L121.9 399.1H112.9Z"/><path d="M118.3 382.5L122.8 390.9H113.8Z"/><path d="M118.3 386.1L122.8 394.5H113.8Z"/><path d="M118.3 389.6L122.8 398.0H113.8Z"/><path d="M119.2 382.8L123.7 391.2H114.7Z"/><path d="M119.2 386.0L123.7 394.4H114.7Z"/><path d="M119.2 391.6L123.7 400.0H114.7Z"/><path d="M120.1 383.8L124.6 392.2H115.6Z"/><path d="M120.1 386.1L124.6 394.5H115.6Z"/><path d="M120.1 392.7L124.6 401.1H115.6Z"/><path d="M121.0 384.2L125.5 392.6H116.5Z"/><path d="M121.0 387.7L125.5 396.1H116.5Z"/><path d="M121.9 384.5L126.4 392.9H117.4Z"/><path d="M121.9 387.1L126.4 395.5H117.4Z"/><path d="M121.9 392.3L126.4 400.7H117.4Z"/><path d="M122.8 383.4L127.3 391.8H118.3Z"/><path d="M122.8 386.7L127.3 395.1H118.3Z"/><path d="M123.7 382.9L128.2 391.3H119.2Z"/><path d="M123.7 388.4L128.2 396.8H119.2Z"/><path d="M124.6 384.3L129.1 392.7H120.1Z"/><path d="M124.6 387.9L129.1 396.3H120.1Z"/><path d="M125.5 385.1L130.0 393.5H121.0Z"/><path d="M125.5 387.8L130.0 396.2H121.0Z"/><path d="M125.5 393.1L130.0 401.5H121.0Z"/><path d="M126.4 384.7L130.9 393.1H121.9Z"/><path d="M126.4 387.7L130.9 396.1H121.9Z"/><path d="M127.3 383.8L131.8 392.2H122.8Z"/><path d="M127.3 388.5L131.8 396.9H122.8Z"/><path d="M127.3 395.8L131.8 404.2H122.8Z"/><path d="M128.2 384.7L132.7 393.1H123.7Z"/><path d="M128.2 389.0L132.7 397.4H123.7Z"/><path d="M129.1 384.7L133.6 393.1H124.6Z"/><path d="M129.1 390.4L133.6 398.8H124.6Z"/><path d="M130.0 383.9L134.5 392.3H125.5Z"/><path d="M130.0 389.8L134.5 398.2H125.5Z"/><path d="M130.9 384.4L135.4 392.8H126.4Z"/><path d="M130.9 389.3L135.4 397.7H126.4Z"/><path d="M130.9 396.1L135.4 404.5H126.4Z"/><path d="M131.8 384.3L136.3 392.7H127.3Z"/><path d="M131.8 391.0L136.3 399.4H127.3Z"/><path d="M132.7 385.8L137.2 394.2H128.2Z"/><path d="M132.7 391.4L137.2 399.8H128.2Z"/><path d="M132.7 397.3L137.2 405.7H128.2Z"/><path d="M133.6 386.0L138.1 394.4H129.1Z"/><path d="M133.6 390.3L138.1 398.7H129.1Z"/><path d="M133.6 398.6L138.1 407.0H129.1Z"/><path d="M134.5 384.6L139.0 393.0H130.0Z"/><path d="M134.5 391.3L139.0 399.7H130.0Z"/><path d="M134.5 397.4L139.0 405.8H130.0Z"/><path d="M135.4 384.7L139.9 393.1H130.9Z"/><path d="M135.4 391.5L139.9 399.9H130.9Z"/><path d="M136.3 385.7L140.8 394.1H131.8Z"/><path d="M136.3 391.9L140.8 400.3H131.8Z"/><path d="M137.2 386.5L141.7 394.9H132.7Z"/><path d="M137.2 393.1L141.7 401.5H132.7Z"/><path d="M137.2 399.8L141.7 408.2H132.7Z"/><path d="M138.1 386.6L142.6 395.0H133.6Z"/><path d="M138.1 392.8L142.6 401.2H133.6Z"/><path d="M138.1 399.5L142.6 407.9H133.6Z"/><path d="M139.0 386.3L143.5 394.7H134.5Z"/><path d="M139.0 393.8L143.5 402.2H134.5Z"/><path d="M139.9 387.0L144.4 395.4H135.4Z"/><path d="M139.9 392.5L144.4 400.9H135.4Z"/><path d="M139.9 402.8L144.4 411.2H135.4Z"/><path d="M140.8 385.9L145.3 394.3H136.3Z"/><path d="M140.8 394.3L145.3 402.7H136.3Z"/><path d="M141.7 387.1L146.2 395.5H137.2Z"/><path d="M141.7 394.4L146.2 402.8H137.2Z"/><path d="M141.7 402.6L146.2 411.0H137.2Z"/><path d="M142.6 386.3L147.1 394.7H138.1Z"/><path d="M142.6 392.9L147.1 401.3H138.1Z"/><path d="M143.5 386.2L148.0 394.6H139.0Z"/><path d="M143.5 394.4L148.0 402.8H139.0Z"/><path d="M143.5 401.3L148.0 409.7H139.0Z"/><path d="M144.4 388.1L148.9 396.5H139.9Z"/><path d="M144.4 393.9L148.9 402.3H139.9Z"/><path d="M144.4 401.4L148.9 409.8H139.9Z"/><path d="M145.3 388.1L149.8 396.5H140.8Z"/><path d="M145.3 393.8L149.8 402.2H140.8Z"/><path d="M146.2 388.4L150.7 396.8H141.7Z"/><path d="M146.2 394.5L150.7 402.9H141.7Z"/><path d="M147.1 386.7L151.6 395.1H142.6Z"/><path d="M147.1 393.8L151.6 402.2H142.6Z"/><path d="M148.0 388.0L152.5 396.4H143.5Z"/><path d="M148.0 394.2L152.5 402.6H143.5Z"/><path d="M148.9 387.6L153.4 396.0H144.4Z"/><path d="M148.9 394.6L153.4 403.0H144.4Z"/><path d="M148.9 400.8L153.4 409.2H144.4Z"/><path d="M149.8 388.3L154.3 396.7H145.3Z"/><path d="M149.8 394.4L154.3 402.8H145.3Z"/><path d="M149.8 403.6L154.3 412.0H145.3Z"/><path d="M150.7 388.2L155.2 396.6H146.2Z"/><path d="M150.7 395.5L155.2 403.9H146.2Z"/><path d="M151.6 389.5L156.1 397.9H147.1Z"/><path d="M151.6 393.9L156.1 402.3H147.1Z"/><path d="M151.6 401.6L156.1 410.0H147.1Z"/><path d="M124.8 398.7L129.3 407.1H120.3Z"/><path d="M102.5 369.0L107.0 377.4H98.0Z"/><path d="M111.2 375.5L115.7 383.9H106.7Z"/></g><text x="0.9" y="20.2" font-size="24">a<tspan x="14.4" font-size="25.6">)</tspan></text><text x="1.0" y="353.2" font-size="25.6">b)</text><text transform="translate(51.8 172.9) rotate(-90)" font-size="19.5" textLength="101" lengthAdjust="spacingAndGlyphs">x (Li<tspan font-size="13.5" dy="4.5">x</tspan><tspan dy="-4.5">FePO</tspan><tspan font-size="13.5" dy="4.5">4</tspan><tspan dy="-4.5">)</tspan></text><text transform="translate(51.8 516.6) rotate(-90)" font-size="19.5" textLength="122.5" lengthAdjust="spacingAndGlyphs">x (Li<tspan font-size="13.5" dy="4.5">(1-x)</tspan><tspan dy="-4.5">FePO</tspan><tspan font-size="13.5" dy="4.5">4</tspan><tspan dy="-4.5">)</tspan></text></svg></body></html>
